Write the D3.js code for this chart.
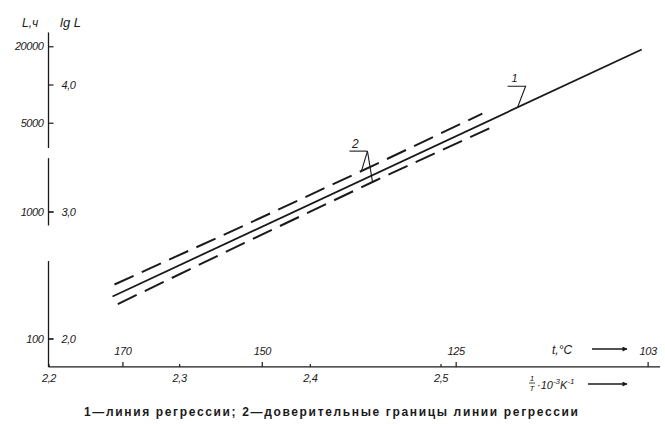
<!DOCTYPE html>
<html>
<head>
<meta charset="utf-8">
<script src="https://cdn.jsdelivr.net/npm/d3@7"></script>
<style>
  body { margin: 0; background: #fff; }
  svg { display: block; }
</style>
</head>
<body>
<svg id="vis" width="665" height="425"></svg>
<script>
// regression line of lg L against 1/T, with confidence bounds

// tick labels
var hourTicks = [20000, 5000, 1000, 100];
var lgTicks = [4.0, 3.0, 2.0];
var invTTicks = [2.2, 2.3, 2.4, 2.5];
var tempTicks = [170, 150, 125, 103];

// 1 - regression line
var regInvT = [2.249, 2.654];
var regLg = [2.331, 4.276];

// 2 - confidence bounds
var upperInvT = [2.2505, 2.35, 2.45, 2.532];
var upperLg = [2.425, 2.891, 3.369, 3.771];
var lowerInvT = [2.253, 2.35, 2.45, 2.539];
var lowerLg = [2.271, 2.753, 3.242, 3.662];

// where the labels "1" and "2" point
var label1At = [2.559, 3.821];
var label2At = [[2.4395, 3.318], [2.448, 3.232]];

// drawn pieces of the (broken) vertical axis, in lg L
var yAxisPieces = [[4.41, 3.5], [3.42, 2.89], [2.61, 1.776]];
var xAxisEnd = 2.668;
var caption = "1—линия регрессии;  2—доверительные границы линии регрессии";

var ink = "#1a1a1a";
var hand = "'Liberation Sans', Arial, sans-serif";

var svg = d3.select("#vis");
svg.append("rect").attr("width", 665).attr("height", 425).attr("fill", "#fff");

var x = d3.scaleLinear().domain([2.2, 2.5]).range([48.5, 440.5]);
var y = d3.scaleLinear().domain([2, 4]).range([338.5, 84.5]);
var y0 = y(1.776);
var x0 = x(2.2);

// axis lines
yAxisPieces.forEach(function(p) {
  svg.append("line")
    .attr("x1", x0).attr("x2", x0)
    .attr("y1", y(p[0])).attr("y2", y(p[1]))
    .attr("stroke", ink).attr("stroke-width", 1.3);
});
svg.append("line")
  .attr("x1", x0).attr("x2", x(xAxisEnd))
  .attr("y1", y0).attr("y2", y0)
  .attr("stroke", ink).attr("stroke-width", 1.3);

// y axis: L on the left, lg L on the right
var yLeft = d3.axisLeft(y)
  .tickValues(hourTicks.map(function(d) { return Math.log10(d); }))
  .tickSize(0).tickPadding(5)
  .tickFormat(function(d, i) { return hourTicks[i]; });
var gL = svg.append("g").attr("transform", "translate(" + x0 + ",0)").call(yLeft);

var yRight = d3.axisRight(y)
  .tickValues(lgTicks)
  .tickSize(5).tickPadding(8)
  .tickFormat(function(d) { return d.toFixed(1).replace(".", ","); });
var gR = svg.append("g").attr("transform", "translate(" + x0 + ",0)").call(yRight);

// extra ticks for the L marks which have no lg label
gL.selectAll(".tick").append("line")
  .attr("x2", 5).attr("stroke", ink).attr("stroke-width", 1.2);

// x axis: 1/T below, t °C above
var xInv = d3.axisBottom(x)
  .tickValues(invTTicks)
  .tickSizeInner(-3).tickSizeOuter(0).tickPadding(7)
  .tickFormat(function(d) { return d.toFixed(1).replace(".", ","); });
var gX = svg.append("g").attr("transform", "translate(0," + y0 + ")").call(xInv);

var xTemp = d3.axisTop(x)
  .tickValues(tempTicks.map(function(t) { return 1000 / (t + 273.15); }))
  .tickSize(5).tickPadding(7)
  .tickFormat(function(d, i) { return tempTicks[i]; });
var gT = svg.append("g").attr("transform", "translate(0," + y0 + ")").call(xTemp);

[gL, gR, gX, gT].forEach(function(g) {
  g.select(".domain").remove();
  g.selectAll(".tick line").attr("stroke", ink).attr("stroke-width", 1.2);
  g.selectAll("text")
    .attr("fill", ink)
    .attr("font-family", hand)
    .attr("font-style", "italic")
    .attr("font-size", 11)
    .attr("letter-spacing", -0.4);
});

// axis titles
svg.append("text").attr("x", 22).attr("y", 27)
  .attr("font-family", hand).attr("font-style", "italic").attr("font-size", 12)
  .attr("fill", ink).text("L,ч");
svg.append("text").attr("x", 60).attr("y", 27)
  .attr("font-family", hand).attr("font-style", "italic").attr("font-size", 13)
  .attr("fill", ink).text("lg L");

svg.append("defs").append("marker")
  .attr("id", "arr").attr("viewBox", "0 0 10 10")
  .attr("refX", 9).attr("refY", 5)
  .attr("markerWidth", 8).attr("markerHeight", 5)
  .attr("markerUnits", "userSpaceOnUse")
  .attr("orient", "auto")
  .append("path").attr("d", "M0,0 L10,5 L0,10 z").attr("fill", ink);

// t °C ->
svg.append("text").attr("x", 552).attr("y", 354)
  .attr("font-family", hand).attr("font-style", "italic").attr("font-size", 12)
  .attr("fill", ink).text("t,°C");
svg.append("line").attr("x1", 592).attr("x2", 627).attr("y1", 349).attr("y2", 349)
  .attr("stroke", ink).attr("stroke-width", 1.3).attr("marker-end", "url(#arr)");

// 1/T * 10^-3 K^-1 ->
var frac = svg.append("g").attr("font-family", hand).attr("font-style", "italic").attr("fill", ink);
frac.append("text").attr("x", 532).attr("y", 381).attr("font-size", 8)
  .attr("text-anchor", "middle").text("1");
frac.append("line").attr("x1", 529).attr("x2", 535).attr("y1", 383).attr("y2", 383)
  .attr("stroke", ink).attr("stroke-width", 0.8);
frac.append("text").attr("x", 532).attr("y", 391).attr("font-size", 8)
  .attr("text-anchor", "middle").text("T");
var unit = frac.append("text").attr("x", 537).attr("y", 389).attr("font-size", 11);
unit.append("tspan").text("·10");
unit.append("tspan").attr("dy", -5).attr("font-size", 8).text("-3");
unit.append("tspan").attr("dy", 5).text("K");
unit.append("tspan").attr("dy", -5).attr("font-size", 8).text("-1");
svg.append("line").attr("x1", 588).attr("x2", 627).attr("y1", 384).attr("y2", 384)
  .attr("stroke", ink).attr("stroke-width", 1.3).attr("marker-end", "url(#arr)");

// lines
var line = d3.line()
  .x(function(d) { return x(d[0]); })
  .y(function(d) { return y(d[1]); });

svg.append("path")
  .datum(d3.zip(regInvT, regLg))
  .attr("d", line)
  .attr("fill", "none").attr("stroke", ink).attr("stroke-width", 1.8);

[[upperInvT, upperLg], [lowerInvT, lowerLg]].forEach(function(s) {
  svg.append("path")
    .datum(d3.zip(s[0], s[1]))
    .attr("d", line)
    .attr("fill", "none").attr("stroke", ink).attr("stroke-width", 2)
    .attr("stroke-dasharray", "21,9");
});

// label 1
var a1x = x(label1At[0]), a1y = y(label1At[1]);
svg.append("path")
  .attr("d", "M" + (a1x - 10) + "," + (a1y - 21) + " L" + (a1x + 8) + "," + (a1y - 21) + " L" + a1x + "," + a1y)
  .attr("fill", "none").attr("stroke", ink).attr("stroke-width", 1.1);
svg.append("text").attr("x", a1x - 3).attr("y", a1y - 25)
  .attr("text-anchor", "middle").attr("font-family", hand).attr("font-style", "italic")
  .attr("font-size", 11).attr("fill", ink).text("1");

// label 2
var r2x = x(label2At[0][0]) + 6, r2y = y(label2At[0][1]) - 20;
svg.append("path")
  .attr("d", "M" + (r2x - 18) + "," + r2y + " L" + r2x + "," + r2y)
  .attr("fill", "none").attr("stroke", ink).attr("stroke-width", 1.1);
label2At.forEach(function(p) {
  svg.append("line")
    .attr("x1", r2x).attr("y1", r2y)
    .attr("x2", x(p[0])).attr("y2", y(p[1]))
    .attr("stroke", ink).attr("stroke-width", 1.1);
});
svg.append("text").attr("x", r2x - 12).attr("y", r2y - 3)
  .attr("text-anchor", "middle").attr("font-family", hand).attr("font-style", "italic")
  .attr("font-size", 12).attr("fill", ink).text("2");

// caption
svg.append("text")
  .attr("x", 84).attr("y", 416)
  .attr("font-family", "'Liberation Sans', Arial, sans-serif")
  .attr("font-weight", "bold")
  .attr("font-size", 12)
  .attr("textLength", 494).attr("lengthAdjust", "spacing")
  .attr("fill", ink)
  .text(caption);
</script>
</body>
</html>
